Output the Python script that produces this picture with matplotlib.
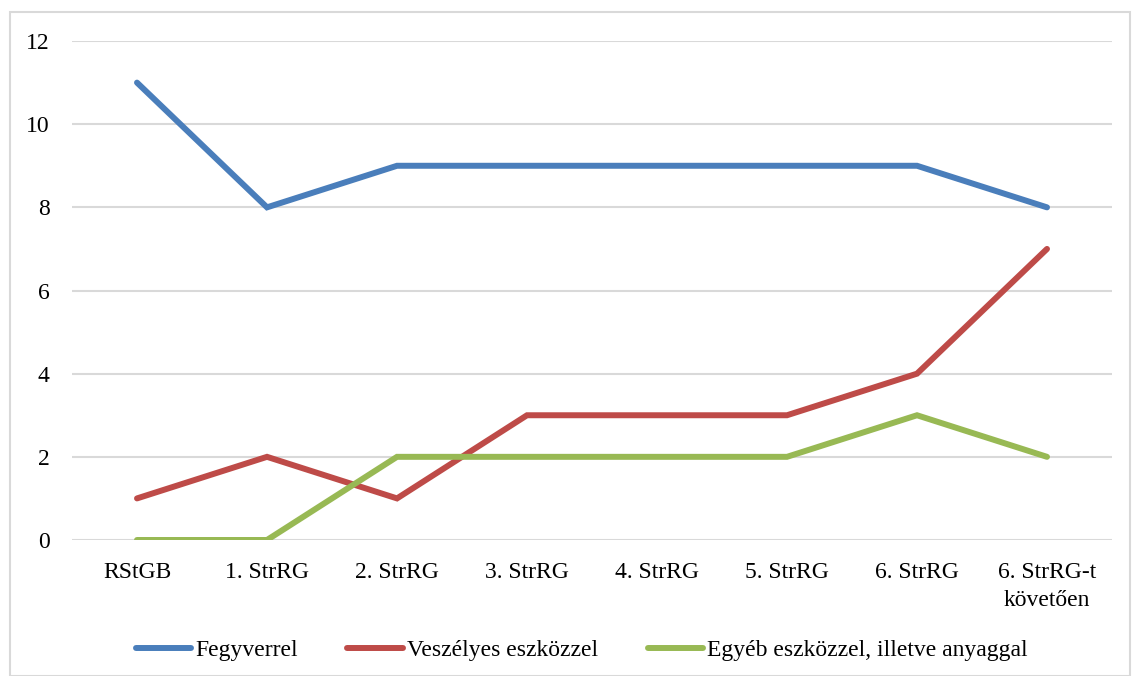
import matplotlib.pyplot as plt
from matplotlib.patches import Rectangle

plt.rcParams['font.family'] = ['Liberation Serif', 'DejaVu Serif']

categories = ['RStGB', '1. StrRG', '2. StrRG', '3. StrRG', '4. StrRG', '5. StrRG', '6. StrRG', '6. StrRG-t\nkövetően']
fegyverrel = [11, 8, 9, 9, 9, 9, 9, 8]
veszelyes = [1, 2, 1, 3, 3, 3, 4, 7]
egyeb = [0, 0, 2, 2, 2, 2, 3, 2]

series = [
    ('Fegyverrel', fegyverrel, '#4a7ebb'),
    ('Veszélyes eszközzel', veszelyes, '#be4b48'),
    ('Egyéb eszközzel, illetve anyaggal', egyeb, '#98b954'),
]

fig = plt.figure(figsize=(11.34, 6.76), dpi=100)
ax = fig.add_axes([0.0635, 0.2012, 0.9171, 0.7381])

x = range(len(categories))
for name, vals, col in series:
    ax.plot(x, vals, color=col, lw=4.3, label=name, solid_capstyle='round', solid_joinstyle='miter')

ax.set_xlim(-0.5, len(categories) - 0.5)
ax.set_ylim(0, 12)
ax.set_yticks(range(0, 13, 2))
ax.set_xticks(list(x))
ax.set_xticklabels(categories, fontsize=17, linespacing=1.4)
ax.tick_params(axis='y', labelsize=17, length=0, pad=16)
ax.tick_params(axis='x', length=0, pad=16)
ax.grid(axis='y', color='#d9d9d9', lw=1.5)
ax.set_axisbelow(True)
for s in ax.spines.values():
    s.set_visible(False)

fig.legend(loc='center', bbox_to_anchor=(0.513, 0.038), ncol=3, frameon=False, fontsize=17,
           handlelength=2.35, handletextpad=0.17, columnspacing=2.1)

fig.patches.append(Rectangle((10 / 1134, 0), 1120 / 1134, 1 - 12 / 676, transform=fig.transFigure,
                             fill=False, edgecolor='#d9d9d9', lw=1.5))

fig.savefig('out.png', dpi=100, facecolor='white')
